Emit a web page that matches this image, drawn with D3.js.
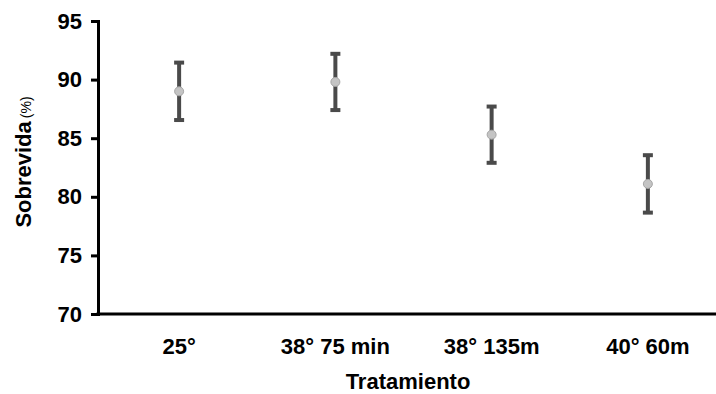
<!DOCTYPE html>
<html>
<head>
<meta charset="utf-8">
<script src="https://cdn.jsdelivr.net/npm/d3@7"></script>
<style>
  html, body { margin: 0; padding: 0; background: #fff; }
  svg { display: block; font-family: "Liberation Sans", Arial, sans-serif; }
</style>
</head>
<body>
<svg id="chart" width="716" height="394"></svg>
<script>
// Survival (%) per treatment, with error bar half-widths
const categories = ["25°", "38° 75 min", "38° 135m", "40° 60m"];
const survival = [89.0, 89.8, 85.3, 81.1];
const errors = [2.45, 2.4, 2.4, 2.45];
const yTicks = [70, 75, 80, 85, 90, 95];

const svg = d3.select("#chart");
const plotLeft = 98, plotTop = 21, plotBottom = 314, plotRight = 726;
const fontSize = "22px";

const x = d3.scaleBand().domain(categories).range([plotLeft + 3, plotRight]).padding(0);
const y = d3.scaleLinear().domain([70, 95]).range([plotBottom, plotTop]);

// Y axis
const yAxis = svg.append("g")
  .attr("transform", `translate(${plotLeft},0)`)
  .call(d3.axisLeft(y).tickValues(yTicks).tickSize(7).tickPadding(9).tickFormat(d3.format("d")));
yAxis.select(".domain").attr("stroke", "#000").attr("stroke-width", 3);
yAxis.selectAll(".tick line").attr("stroke", "#000").attr("stroke-width", 3);
yAxis.selectAll(".tick text")
  .attr("fill", "#000").style("font-size", fontSize).style("font-weight", "bold")
  .style("font-family", "'Liberation Sans', Arial, sans-serif");

// X axis (no tick marks)
const xAxis = svg.append("g")
  .attr("transform", `translate(0,${plotBottom})`)
  .call(d3.axisBottom(x).tickSize(0));
xAxis.select(".domain").attr("stroke", "#000").attr("stroke-width", 3)
  .attr("d", `M${plotLeft - 1.5},0H716`);
xAxis.selectAll(".tick text")
  .attr("y", 40).attr("dy", 0)
  .attr("fill", "#000").style("font-size", fontSize).style("font-weight", "bold")
  .style("font-family", "'Liberation Sans', Arial, sans-serif");

// Axis titles
svg.append("text")
  .attr("x", 408)
  .attr("y", 389)
  .attr("text-anchor", "middle")
  .style("font-size", fontSize).style("font-weight", "bold")
  .text("Tratamiento");

const yTitle = svg.append("text")
  .attr("transform", `translate(31,162) rotate(-90)`)
  .attr("text-anchor", "middle");
yTitle.append("tspan").style("font-size", fontSize).style("font-weight", "bold").text("Sobrevida");
yTitle.append("tspan").style("font-size", "14px").attr("dx", 3).text("(%)");

// Error bars
const data = categories.map((c, i) => ({ c, v: survival[i], e: errors[i] }));
const g = svg.append("g");
const cx = d => x(d.c) + x.bandwidth() / 2;
const capW = 5;

g.selectAll("line.stem").data(data).join("line")
  .attr("x1", cx).attr("x2", cx)
  .attr("y1", d => y(d.v + d.e)).attr("y2", d => y(d.v - d.e))
  .attr("stroke", "#4a4a4a").attr("stroke-width", 4);
g.selectAll("line.capTop").data(data).join("line")
  .attr("x1", d => cx(d) - capW).attr("x2", d => cx(d) + capW)
  .attr("y1", d => y(d.v + d.e)).attr("y2", d => y(d.v + d.e))
  .attr("stroke", "#4a4a4a").attr("stroke-width", 4);
g.selectAll("line.capBot").data(data).join("line")
  .attr("x1", d => cx(d) - capW).attr("x2", d => cx(d) + capW)
  .attr("y1", d => y(d.v - d.e)).attr("y2", d => y(d.v - d.e))
  .attr("stroke", "#4a4a4a").attr("stroke-width", 4);

// Mean markers
g.selectAll("circle").data(data).join("circle")
  .attr("cx", cx).attr("cy", d => y(d.v)).attr("r", 4.5)
  .attr("fill", "#c4c4c4").attr("stroke", "#a6a6a6").attr("stroke-width", 1);
</script>
</body>
</html>
